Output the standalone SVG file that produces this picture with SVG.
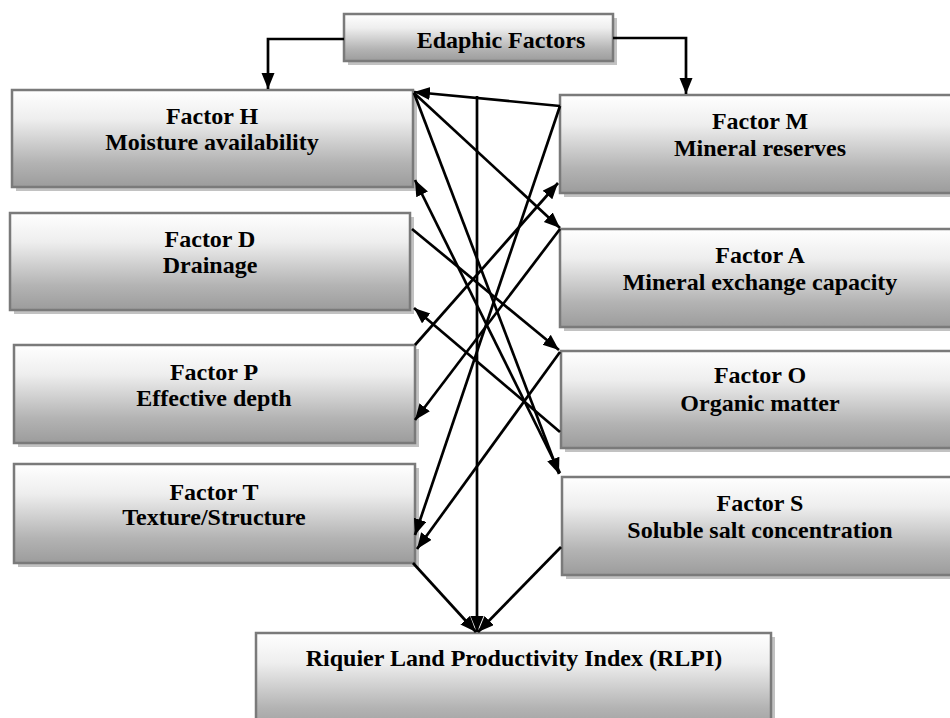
<svg xmlns="http://www.w3.org/2000/svg" width="950" height="718" viewBox="0 0 950 718">
<defs>
<linearGradient id="g" x1="0" y1="0" x2="0" y2="1">
<stop offset="0" stop-color="#ffffff"/>
<stop offset="0.3" stop-color="#eeeeee"/>
<stop offset="0.75" stop-color="#b3b3b3"/>
<stop offset="1" stop-color="#9c9c9c"/>
</linearGradient>
<marker id="ah" markerUnits="userSpaceOnUse" markerWidth="18" markerHeight="14" refX="16" refY="6.5" orient="auto">
<path d="M0,0 L16,6.5 L0,13 z" fill="#000"/>
</marker>
<style>
.sh{fill:#c2c2c2}
.bx{fill:url(#g);stroke:#7a7a7a;stroke-width:2.5}
.t{font-family:"Liberation Serif","Times New Roman",serif;font-weight:bold;font-size:24px;fill:#000;text-anchor:middle}
.c{fill:none;stroke:#000;stroke-width:2.7;marker-end:url(#ah)}
</style>
</defs>
<rect width="950" height="718" fill="#fff"/>

<g id="edaphic">
<rect class="sh" x="348" y="18" width="269" height="47"/>
<rect class="bx" x="344" y="14" width="269" height="47"/>
<text class="t" x="501" y="48">Edaphic Factors</text>
</g>

<g id="factorH">
<rect class="sh" x="16" y="94" width="401" height="97"/>
<rect class="bx" x="12" y="90" width="401" height="97"/>
<text class="t" x="212" y="124">Factor H</text>
<text class="t" x="212" y="150">Moisture availability</text>
</g>

<g id="factorD">
<rect class="sh" x="14" y="217" width="400" height="97"/>
<rect class="bx" x="10" y="213" width="400" height="97"/>
<text class="t" x="210" y="247">Factor D</text>
<text class="t" x="210" y="273">Drainage</text>
</g>

<g id="factorP">
<rect class="sh" x="18" y="349" width="401" height="98"/>
<rect class="bx" x="14" y="345" width="401" height="98"/>
<text class="t" x="214" y="380">Factor P</text>
<text class="t" x="214" y="406">Effective depth</text>
</g>

<g id="factorT">
<rect class="sh" x="18" y="468" width="401" height="99"/>
<rect class="bx" x="14" y="464" width="401" height="99"/>
<text class="t" x="214" y="500">Factor T</text>
<text class="t" x="214" y="525">Texture/Structure</text>
</g>

<g id="factorM">
<rect class="sh" x="564" y="99" width="400" height="98"/>
<rect class="bx" x="560" y="95" width="400" height="98"/>
<text class="t" x="760" y="129">Factor M</text>
<text class="t" x="760" y="156">Mineral reserves</text>
</g>

<g id="factorA">
<rect class="sh" x="564" y="233" width="400" height="98"/>
<rect class="bx" x="560" y="229" width="400" height="98"/>
<text class="t" x="760" y="263">Factor A</text>
<text class="t" x="760" y="290">Mineral exchange capacity</text>
</g>

<g id="factorO">
<rect class="sh" x="565" y="355" width="400" height="97"/>
<rect class="bx" x="561" y="351" width="400" height="97"/>
<text class="t" x="760" y="383">Factor O</text>
<text class="t" x="760" y="411">Organic matter</text>
</g>

<g id="factorS">
<rect class="sh" x="566" y="481" width="400" height="98"/>
<rect class="bx" x="562" y="477" width="400" height="98"/>
<text class="t" x="760" y="511">Factor S</text>
<text class="t" x="760" y="538">Soluble salt concentration</text>
</g>

<g id="rlpi">
<rect class="sh" x="260" y="637" width="515" height="100"/>
<rect class="bx" x="256" y="633" width="515" height="100"/>
<text class="t" x="514" y="666">Riquier Land Productivity Index (RLPI)</text>
</g>

<g id="connectors">
<polyline class="c" points="344,39 268,39 268,89"/>
<polyline class="c" points="613,38 686,38 686,94"/>
<line class="c" x1="560" y1="106" x2="414" y2="92"/>
<line class="c" x1="414" y1="93" x2="560" y2="228"/>
<line class="c" x1="414" y1="93" x2="559" y2="474"/>
<line class="c" x1="560" y1="473" x2="415" y2="180"/>
<line class="c" x1="560" y1="106" x2="415" y2="535"/>
<line class="c" x1="415" y1="345" x2="558" y2="183"/>
<line class="c" x1="560" y1="229" x2="415" y2="420"/>
<line class="c" x1="412" y1="229" x2="559" y2="350"/>
<line class="c" x1="560" y1="432" x2="414" y2="308"/>
<line class="c" x1="560" y1="352" x2="417" y2="549"/>
<line class="c" x1="413" y1="563" x2="476" y2="632"/>
<line class="c" x1="477" y1="96" x2="477" y2="632"/>
<line class="c" x1="561" y1="547" x2="478" y2="632"/>
</g>
</svg>
